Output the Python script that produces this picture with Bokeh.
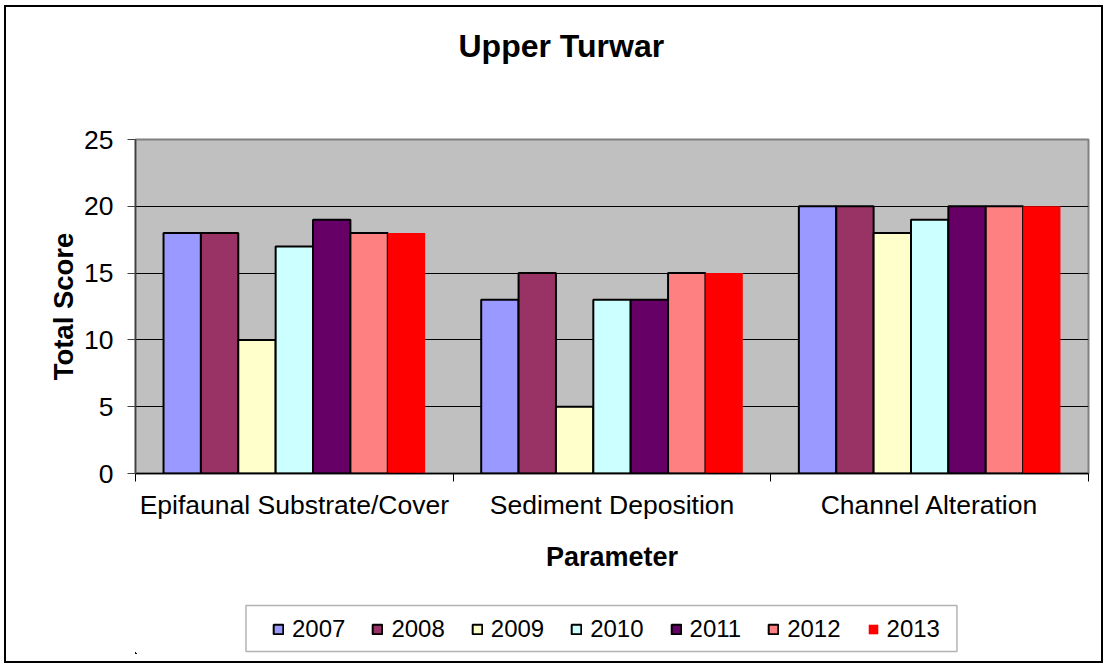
from bokeh.plotting import figure
from bokeh.layouts import column
from bokeh.models import (ColumnDataSource, FixedTicker, Legend, LegendItem, Range1d, Title,
                          BoxAnnotation)
from bokeh.embed import file_html
from bokeh.resources import INLINE
from bokeh.transform import dodge

categories = ["Epifaunal Substrate/Cover", "Sediment Deposition", "Channel Alteration"]
years = ["2007", "2008", "2009", "2010", "2011", "2012", "2013"]
v2007 = [18, 13, 20]
v2008 = [18, 15, 20]
v2009 = [10, 5, 18]
v2010 = [17, 13, 19]
v2011 = [19, 13, 20]
v2012 = [18, 15, 20]
v2013 = [18, 15, 20]
series = [v2007, v2008, v2009, v2010, v2011, v2012, v2013]
colors = ["#9999FF", "#993366", "#FFFFCC", "#CCFFFF", "#660066", "#FF8080", "#FF0000"]
y_ticks = [0, 5, 10, 15, 20, 25]
chart_title = "Upper Turwar"

FONT = "Liberation Sans"

centers = [i + 0.5 for i in range(len(categories))]
data = {"x": centers}
for yr, vals in zip(years, series):
    data["y" + yr] = vals
source = ColumnDataSource(data)

p = figure(
    title=None,
    frame_width=949, frame_height=332,
    min_border_left=129, min_border_right=17, min_border_top=132, min_border_bottom=117,
    x_range=Range1d(0, len(categories)), y_range=Range1d(0, 25),
    output_backend="svg", toolbar_location=None,
    background_fill_color="#C0C0C0", border_fill_color="white",
)
p.margin = (5, 0, 0, 4)
p.styles = {"border": "2px solid black", "border-bottom": "none", "box-sizing": "border-box"}

spacer = Title(text=" ", text_font_size="1px", standoff=68)
p.add_layout(spacer, "above")
title = Title(text=chart_title, align="left", offset=323, standoff=10,
              text_font=FONT, text_font_size="32px", text_font_style="bold",
              text_color="black")
p.add_layout(title, "above")

p.outline_line_color = "#808080"
p.outline_line_width = 2

p.xgrid.visible = False
p.ygrid.ticker = FixedTicker(ticks=[5, 10, 15, 20])
p.ygrid.grid_line_color = "black"
p.ygrid.grid_line_width = 1

xa = p.xaxis[0]
xa.ticker = FixedTicker(ticks=centers, minor_ticks=list(range(len(categories) + 1)))
xa.major_label_overrides = {c: lab for c, lab in zip(centers, categories)}
xa.major_tick_line_color = None
xa.minor_tick_line_color = "black"
xa.minor_tick_out = 8
xa.minor_tick_in = 0
xa.axis_line_color = "black"
xa.axis_line_width = 1.5
xa.major_label_text_font = FONT
xa.major_label_text_font_size = "26.5px"
xa.major_label_text_color = "black"
xa.major_label_standoff = 8
xa.axis_label = "Parameter"
xa.axis_label_text_font = FONT
xa.axis_label_text_font_size = "27px"
xa.axis_label_text_font_style = "bold"
xa.axis_label_text_color = "black"
xa.axis_label_standoff = 19

ya = p.yaxis[0]
ya.ticker = FixedTicker(ticks=y_ticks)
ya.minor_tick_line_color = None
ya.major_tick_out = 8
ya.major_tick_in = 0
ya.major_tick_line_color = "#404040"
ya.axis_line_color = "#404040"
ya.axis_line_width = 1.5
ya.major_label_text_font = FONT
ya.major_label_text_font_size = "26.5px"
ya.major_label_text_color = "black"
ya.major_label_standoff = 14
ya.axis_label = "Total Score"
ya.axis_label_text_font = FONT
ya.axis_label_text_font_size = "27.5px"
ya.axis_label_text_font_style = "bold"
ya.axis_label_text_color = "black"
ya.axis_label_standoff = 2

n = len(years)
bw = 1.0 / (n + 1.5)
for j, (yr, col) in enumerate(zip(years, colors)):
    off = (j - (n - 1) / 2) * bw
    p.vbar(
        x=dodge("x", off, range=p.x_range), top="y" + yr, width=bw, bottom=0,
        source=source, fill_color=col,
        line_color=None if yr == "2013" else "black", line_width=2,
    )

# Legend strip: a second figure aligned with the main one; the legend box is drawn in it
p2 = figure(
    frame_width=949, frame_height=48,
    min_border_left=129, min_border_right=17, min_border_top=15, min_border_bottom=10,
    x_range=Range1d(10, 959), y_range=Range1d(98, 146),
    x_axis_type=None, y_axis_type=None,
    output_backend="svg", toolbar_location=None,
    background_fill_color="white", border_fill_color="white",
)
p2.margin = (0, 0, 0, 4)
p2.styles = {"border": "2px solid black", "border-top": "none", "box-sizing": "border-box"}
p2.outline_line_color = None
p2.xgrid.visible = False
p2.ygrid.visible = False

p2.add_layout(BoxAnnotation(left=120, right=828, bottom=100, top=144,
                            fill_color="white", fill_alpha=1,
                            line_color="black", line_width=1.5, level="underlay"))

items = []
for j, (yr, col) in enumerate(zip(years, colors)):
    # same series, outside the strip's visible ranges (only used as legend swatches)
    r = p2.vbar(x="x", top="y" + yr, width=1, bottom=0, source=source, fill_color=col,
                line_color=None if yr == "2013" else "black", line_width=2)
    items.append(LegendItem(label=yr, renderers=[r]))

legend = Legend(items=items, orientation="horizontal", location=(137, 10))
legend.label_text_font = FONT
legend.label_text_font_size = "24px"
legend.label_text_color = "black"
legend.label_text_baseline = "middle"
legend.glyph_width = 12
legend.glyph_height = 12
legend.label_standoff = 8
legend.spacing = 26
legend.padding = 0
legend.margin = 0
legend.border_line_color = None
legend.background_fill_alpha = 0
p2.add_layout(legend)

layout = column(p, p2, spacing=0)
open("out.html", "w").write(file_html(layout, INLINE))
